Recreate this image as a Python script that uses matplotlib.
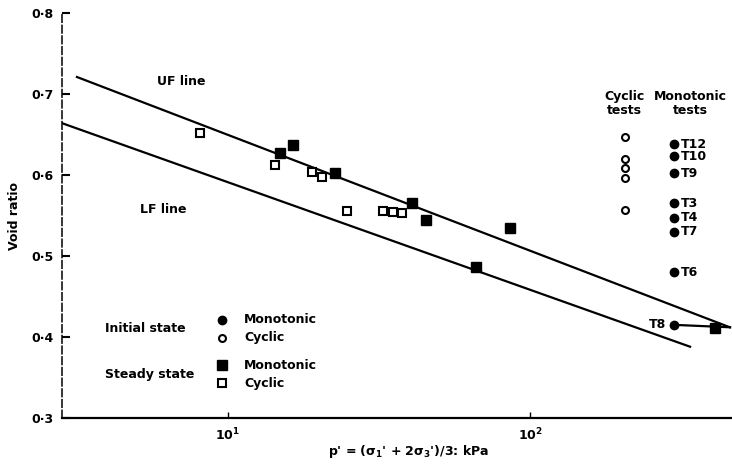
import matplotlib
matplotlib.use("Agg")
import matplotlib.pyplot as plt

plt.rcParams['font.family'] = ['DejaVu Sans']
plt.rcParams['font.weight'] = 'bold'

# Steady-state points (p' kPa, void ratio)
ss_mono_x = [14.9, 16.4, 22.6, 40.6, 45.3, 85.9, 66.2, 410]
ss_mono_e = [0.627, 0.637, 0.602, 0.565, 0.544, 0.535, 0.486, 0.411]
ss_cyc_x = [8.07, 14.3, 19.0, 20.5, 24.8, 32.6, 35.2, 37.7]
ss_cyc_e = [0.652, 0.612, 0.604, 0.598, 0.556, 0.556, 0.554, 0.553]

# Initial-state points
init_cyc_x = [206, 206, 206, 206, 206]
init_cyc_e = [0.647, 0.620, 0.609, 0.596, 0.557]
init_mono_x = [300, 300, 300, 300, 300, 300, 300, 300]
init_mono_e = [0.638, 0.623, 0.602, 0.565, 0.547, 0.530, 0.480, 0.415]
init_mono_lab = ["T12", "T10", "T9", "T3", "T4", "T7", "T6", "T8"]

# UF and LF lines
uf_x = [3.16, 459]
uf_e = [0.721, 0.412]
lf_x = [2.82, 339]
lf_e = [0.664, 0.388]

# T8 path
t8_x = [300, 460]
t8_e = [0.415, 0.412]

yticks = [0.3, 0.4, 0.5, 0.6, 0.7, 0.8]
ytick_labels = ["0·3", "0·4", "0·5", "0·6", "0·7", "0·8"]
xticks = [10, 100]
xtick_labels = ["10$^1$", "10$^2$"]

fig = plt.figure(figsize=(7.32, 4.66), dpi=100)
ax = fig.add_axes([62/732, (466-418)/466, 1 - 62/732, (418-13)/466])
ax.set_xscale('log')
ax.set_xlim(2.82, 466.7)
ax.set_ylim(0.3, 0.8)

k = 'black'
ax.plot(uf_x, uf_e, color=k, lw=1.6)
ax.plot(lf_x, lf_e, color=k, lw=1.6)
ax.plot(t8_x, t8_e, color=k, lw=1.6)

ax.plot(ss_mono_x, ss_mono_e, 's', color=k, ms=6.5, ls='none')
ax.plot(ss_cyc_x, ss_cyc_e, 's', mfc='white', mec=k, mew=1.5, ms=6, ls='none')
ax.plot(init_cyc_x, init_cyc_e, 'o', mfc='white', mec=k, mew=1.5, ms=5, ls='none')
ax.plot(init_mono_x, init_mono_e, 'o', color=k, ms=6, ls='none')

fs = 9
for x, e, lab in zip(init_mono_x, init_mono_e, init_mono_lab):
    if lab == "T8":
        ax.annotate(lab, (x, e), xytext=(-6, 0), textcoords='offset points',
                    ha='right', va='center', fontsize=fs)
    else:
        ax.annotate(lab, (x, e), xytext=(5, 0), textcoords='offset points',
                    ha='left', va='center', fontsize=fs)

# column headers
ax.text(206, 0.688, "Cyclic\ntests", ha='center', va='center', fontsize=fs, linespacing=1.1)
ax.text(340, 0.688, "Monotonic\ntests", ha='center', va='center', fontsize=fs, linespacing=1.1)

# line labels
ax.text(5.8, 0.716, "UF line", ha='left', va='center', fontsize=fs)
ax.text(5.1, 0.557, "LF line", ha='left', va='center', fontsize=fs)

# in-plot legend
lx = 9.55
tx = 11.3
ax.text(3.9, 0.410, "Initial state", ha='left', va='center', fontsize=fs)
ax.plot([lx], [0.421], 'o', color=k, ms=6)
ax.text(tx, 0.421, "Monotonic", ha='left', va='center', fontsize=fs)
ax.plot([lx], [0.399], 'o', mfc='white', mec=k, mew=1.5, ms=5)
ax.text(tx, 0.399, "Cyclic", ha='left', va='center', fontsize=fs)
ax.text(3.9, 0.354, "Steady state", ha='left', va='center', fontsize=fs)
ax.plot([lx], [0.365], 's', color=k, ms=6.5)
ax.text(tx, 0.365, "Monotonic", ha='left', va='center', fontsize=fs)
ax.plot([lx], [0.343], 's', mfc='white', mec=k, mew=1.5, ms=6)
ax.text(tx, 0.343, "Cyclic", ha='left', va='center', fontsize=fs)

# axes styling
for s in ['top', 'right']:
    ax.spines[s].set_visible(False)
ax.spines['left'].set_linestyle((0, (5, 2)))
ax.spines['left'].set_linewidth(1.1)
ax.spines['bottom'].set_linewidth(1.6)

ax.set_yticks(yticks)
ax.set_yticklabels(ytick_labels)
ax.set_xticks(xticks)
ax.set_xticklabels(xtick_labels)
ax.minorticks_off()
ax.tick_params(axis='y', direction='in', length=6, width=1.5, labelsize=fs, pad=6)
ax.tick_params(axis='x', direction='in', length=4, width=1.0, labelsize=fs, pad=6)

fig.text(15/732, 1 - 216/466, "Void ratio", rotation=90, ha='center', va='center', fontsize=fs)
fig.text(409/732, 1 - 452/466, "p' = (σ$_1$' + 2σ$_3$')/3: kPa", ha='center', va='center', fontsize=fs)

fig.savefig("out.png", dpi=100)
